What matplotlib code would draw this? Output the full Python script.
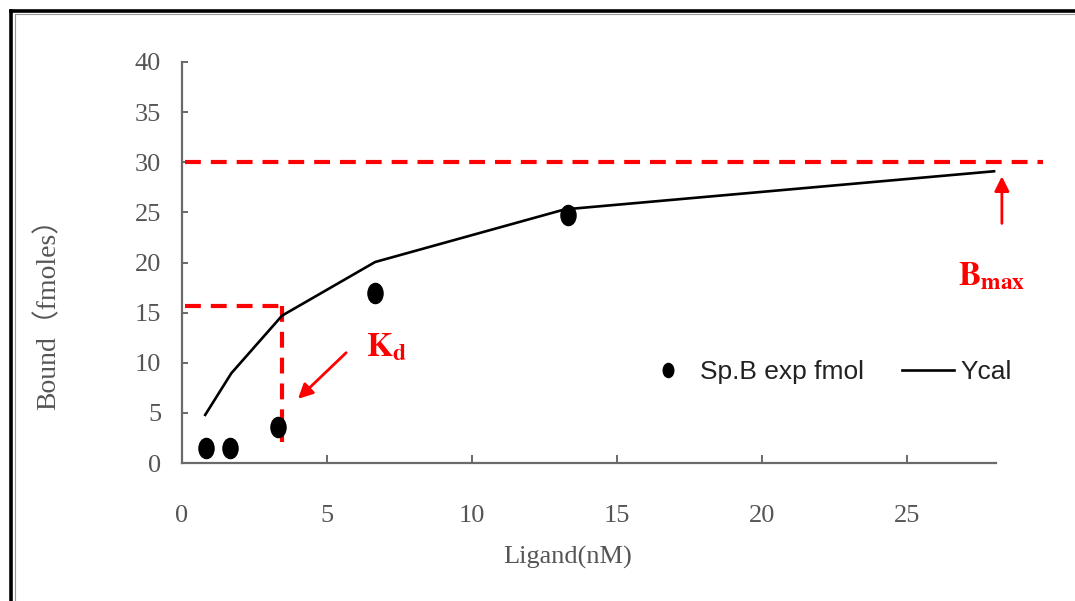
import matplotlib
matplotlib.use("Agg")
import matplotlib.pyplot as plt
from matplotlib.path import Path
from matplotlib.transforms import Affine2D
from matplotlib.lines import Line2D

# data
ligand = [0.83, 1.66, 3.32, 6.67, 13.3]
bound_exp = [1.5, 1.5, 3.6, 17.0, 24.7]
ycal_x = [0.8, 1.7, 3.45, 6.66, 13.2, 28.0]
ycal = [4.8, 8.95, 14.7, 20.05, 25.3, 29.1]
bmax = 30.0
kd_x = 3.45
kd_y = 15.65
xticks = [0, 5, 10, 15, 20, 25]
yticks = [0, 5, 10, 15, 20, 25, 30, 35, 40]

plt.rcParams['mathtext.fontset'] = 'stix'

W, H = 1075, 601
fig = plt.figure(figsize=(W / 100, H / 100), dpi=100)
fig.patch.set_facecolor('white')

# axes placed by pixel: x 182..995, y 62..463 (from top)
ax = fig.add_axes([182 / W, (H - 463) / H, 813.5 / W, 401 / H])
ax.set_xlim(0, 28.05)
ax.set_ylim(0, 40)

grey = '#6a6a6a'
for s in ['top', 'right']:
    ax.spines[s].set_visible(False)
for s in ['left', 'bottom']:
    ax.spines[s].set_color(grey)
    ax.spines[s].set_linewidth(1.6)

tickfont = ['Liberation Serif', 'DejaVu Serif']
ax.set_xticks(xticks)
ax.set_yticks(yticks)
ax.tick_params(axis='x', direction='in', length=6, width=1.4, color=grey,
               pad=30, labelsize=19, labelcolor='#555555')
ax.tick_params(axis='y', direction='in', length=4.5, width=1.4, color=grey,
               pad=15, labelsize=19, labelcolor='#555555')
for lab in ax.get_xticklabels() + ax.get_yticklabels():
    lab.set_fontfamily(tickfont)

ax.set_xlabel('Ligand(nM)', fontsize=19, color='#555555',
              family=['Liberation Serif', 'Noto Sans CJK SC'])
ax.xaxis.set_label_coords((568 - 182) / 813.5, (463 - 546) / 401)
ax.set_ylabel('Bound（fmoles）', fontsize=20, color='#555555',
              family=['Liberation Serif', 'Noto Sans CJK SC'])
ax.yaxis.set_label_coords((62 - 182) / 813.5, (463 - 308) / 401)

# slightly tall elliptical marker
ell = Path.unit_circle().transformed(Affine2D().scale(0.75, 1.0))

ax.plot(ycal_x, ycal, color='black', lw=1.9, zorder=3, label='Ycal')
ax.plot(ligand, bound_exp, linestyle='none', marker=ell, markersize=14.5,
        color='black', zorder=4, label='Sp.B exp fmol')

# red dashed guides
dash = (0, (3.8, 2.4))
ax.plot([0.1, 29.7], [bmax, bmax], color='#ff0000', lw=3, linestyle=dash,
        clip_on=False, zorder=2)
ax.plot([0.1, kd_x + 0.1], [kd_y, kd_y], color='#ff0000', lw=3,
        linestyle=dash, zorder=2)
ax.plot([kd_x, kd_x], [kd_y, 2.1], color='#ff0000', lw=3, linestyle=dash,
        zorder=2)

# arrows and labels
ax.annotate('', xy=(4.0, 6.4), xytext=(5.66, 11.0),
            arrowprops=dict(arrowstyle='-|>', color='#ff0000', lw=2,
                            mutation_scale=22, shrinkA=0, shrinkB=0))
ax.annotate('', xy=(28.27, 28.6), xytext=(28.27, 23.9),
            arrowprops=dict(arrowstyle='-|>', color='#ff0000', lw=2,
                            mutation_scale=22, shrinkA=0, shrinkB=0),
            annotation_clip=False)
ax.text(6.35, 10.6, r'$\mathbf{K}_{\mathbf{d}}$', color='#ff0000',
        fontsize=24, ha='left', va='baseline')
ax.text(26.75, 17.7, r'$\mathbf{B}_{\mathbf{max}}$', color='#ff0000',
        fontsize=24, ha='left', va='baseline', clip_on=False)

# legend, two columns, no frame
h, l = ax.get_legend_handles_labels()
leg = ax.legend(h[::-1], l[::-1], ncol=2, frameon=False, loc='center left',
                bbox_to_anchor=(642 / W, (H - 372) / H),
                bbox_transform=fig.transFigure, borderpad=0, borderaxespad=0,
                handlelength=1.97, handletextpad=0.23, columnspacing=1.44,
                markerscale=0.7,
                prop={'family': 'Liberation Sans', 'size': 19})
for t in leg.get_texts():
    t.set_color('#222222')

# outer frame like the pasted screenshot border
fig.add_artist(Line2D([11 / W, 1], [(H - 11) / H, (H - 11) / H],
                      transform=fig.transFigure, color='black', lw=2.6))
fig.add_artist(Line2D([11 / W, 11 / W], [0, (H - 11) / H],
                      transform=fig.transFigure, color='black', lw=2.6))
fig.add_artist(Line2D([14.5 / W, 1], [(H - 14) / H, (H - 14) / H],
                      transform=fig.transFigure, color='#999999', lw=0.8))
fig.add_artist(Line2D([14.5 / W, 14.5 / W], [0, (H - 14) / H],
                      transform=fig.transFigure, color='#999999', lw=0.8))

fig.savefig('out.png', dpi=100, facecolor='white')
